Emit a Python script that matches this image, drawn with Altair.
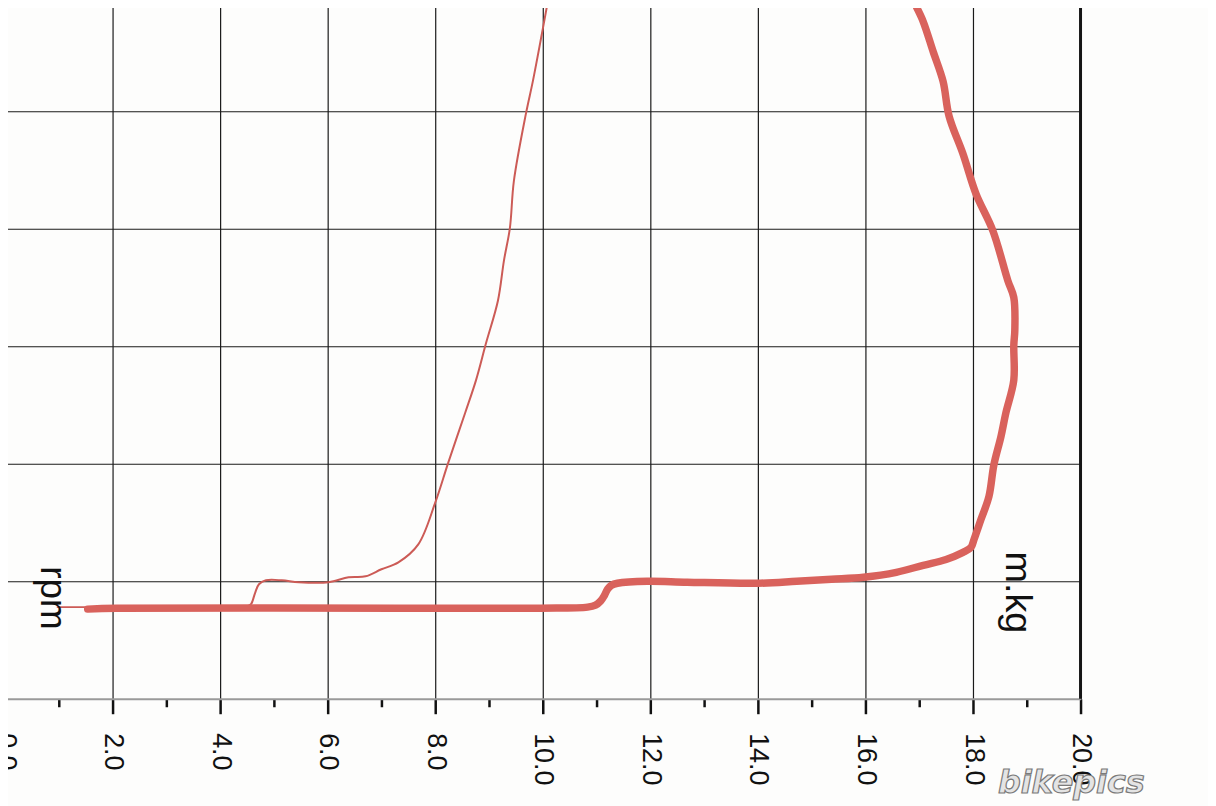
import altair as alt
import pandas as pd

# x axis ticks (m.kg scale) and horizontal grid levels
x_ticks = [i * 0.5 for i in range(41)]
y_grid = [1, 2, 3, 4, 5]

# thin curve
thin_x = [0.963, 1.537, 2.685, 4.500, 4.574, 4.648, 4.722, 4.852, 5.148, 5.463, 6.019,
          6.389, 6.704, 7.000, 7.315, 7.685, 8.000, 8.241, 8.556, 8.759, 8.944, 9.167,
          9.278, 9.389, 9.463, 9.685, 9.815, 9.981, 10.093, 10.13]
thin_y = [0.780, 0.780, 0.780, 0.788, 0.805, 0.898, 0.975, 1.008, 1.008, 0.992, 0.992,
          1.034, 1.042, 1.102, 1.161, 1.314, 1.669, 2.008, 2.432, 2.712, 3.025, 3.390,
          3.729, 4.008, 4.407, 4.975, 5.254, 5.653, 5.932, 6.02]

# thick curve (m.kg)
thick_x = [1.537, 2.074, 7.315, 9.963, 10.833, 10.981, 11.074, 11.148, 11.204, 11.278,
           11.389, 11.944, 12.685, 13.981, 14.722, 15.370, 15.963, 16.574, 17.074, 17.500,
           17.815, 17.963, 18.019, 18.148, 18.296, 18.389, 18.519, 18.611, 18.759, 18.759,
           18.778, 18.759, 18.648, 18.370, 18.056, 17.815, 17.556, 17.444, 17.259, 17.074,
           16.907, 16.85]
thick_y = [0.763, 0.771, 0.771, 0.771, 0.780, 0.797, 0.831, 0.881, 0.932, 0.966,
           0.983, 1.000, 0.992, 0.983, 1.000, 1.017, 1.034, 1.076, 1.136, 1.186,
           1.246, 1.288, 1.356, 1.525, 1.720, 1.992, 2.229, 2.432, 2.712, 3.008,
           3.136, 3.415, 3.559, 3.983, 4.297, 4.636, 4.958, 5.254, 5.508, 5.763,
           5.932, 6.02]

Y_TOP = 700 / 118

thin_df = pd.DataFrame({"x": thin_x, "y": thin_y, "i": range(len(thin_x))})
thick_df = pd.DataFrame({"x": thick_x, "y": thick_y, "i": range(len(thick_x))})
border_df = pd.DataFrame({"x": [20.0]})

FONT = "Liberation Sans"

x_scale = alt.Scale(domain=[0, 20], nice=False, zero=False)
y_scale = alt.Scale(domain=[0, Y_TOP], nice=False, zero=False)

x_axis = alt.Axis(
    values=x_ticks,
    title=None,
    labelExpr="datum.value % 2 === 0 ? format(datum.value, '.1f') : ''",
    labelAngle=90,
    labelFont=FONT,
    labelFontSize=27,
    labelColor="#111",
    labelPadding=19,
    labelOverlap=False,
    labelFlush=False,
    tickSize={"condition": {"test": "datum.value % 2 === 0", "value": 15}, "value": 8},
    tickWidth=2.5,
    tickColor="#111",
    domainColor="#9a9a9a",
    domainWidth=2,
    grid=True,
    gridColor="#1a1a1a",
    gridWidth=1.2,
    gridOpacity={"condition": {"test": "datum.value % 2 === 0", "value": 1}, "value": 0},
)
y_axis = alt.Axis(
    values=y_grid,
    title=None,
    labels=False,
    ticks=False,
    domain=False,
    grid=True,
    gridColor="#1a1a1a",
    gridWidth=1.2,
)

thin = alt.Chart(thin_df).mark_line(
    color="#cc5b56", strokeWidth=2, clip=True, interpolate="catmull-rom"
).encode(
    x=alt.X("x:Q", scale=x_scale, axis=x_axis),
    y=alt.Y("y:Q", scale=y_scale, axis=y_axis),
    order="i:Q",
)

thick = alt.Chart(thick_df).mark_line(
    color="#d9625c", strokeWidth=7.5, clip=True, strokeCap="round", strokeJoin="round",
    interpolate="catmull-rom"
).encode(
    x=alt.X("x:Q", scale=x_scale),
    y=alt.Y("y:Q", scale=y_scale),
    order="i:Q",
)

border = alt.Chart(border_df).mark_rule(color="#151515", strokeWidth=3).encode(
    x=alt.X("x:Q", scale=x_scale),
)

rpm_label = alt.Chart(pd.DataFrame({"t": ["rpm"]})).mark_text(
    angle=90, align="left", baseline="alphabetic", font=FONT, fontSize=37, color="#111"
).encode(text="t:N", x=alt.value(36), y=alt.value(567))

mkg_label = alt.Chart(pd.DataFrame({"t": ["m.kg"]})).mark_text(
    angle=90, align="left", baseline="alphabetic", font=FONT, fontSize=38, color="#111"
).encode(text="t:N", x=alt.value(1005), y=alt.value(552))

watermark = alt.Chart(pd.DataFrame({"t": ["bikepics"]})).mark_text(
    align="left", baseline="alphabetic", font="DejaVu Sans", fontSize=32,
    fontStyle="italic", fontWeight="bold", fill="#e4e4e4", stroke="#7a7a7a",
    strokeWidth=1.2, clip=False
).encode(text="t:N", x=alt.value(997), y=alt.value(795))

chart = alt.layer(thin, thick, border, rpm_label, mkg_label, watermark).properties(
    width=1080,
    height=700,
    autosize="none",
    padding={"left": -3, "top": -8, "right": 128, "bottom": 106},
    background="#fdfdfc",
).configure_view(strokeWidth=0)

chart.save("out.html", embed_options={"renderer": "svg", "actions": False})
